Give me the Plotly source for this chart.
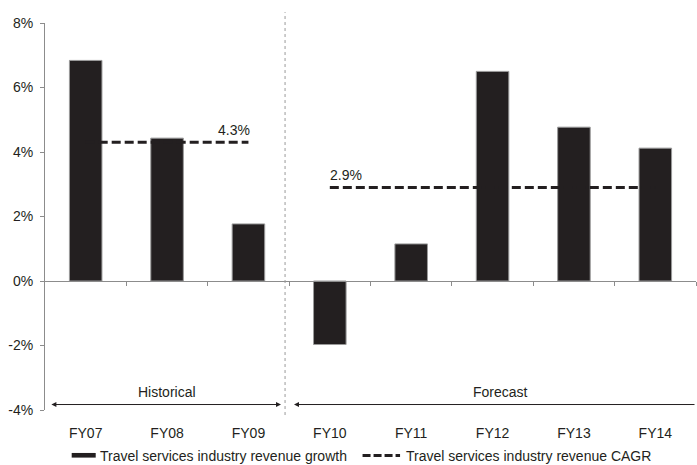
import plotly.graph_objects as go

categories = ["FY07", "FY08", "FY09", "FY10", "FY11", "FY12", "FY13", "FY14"]
revenue_growth = [6.84, 4.43, 1.77, -1.97, 1.15, 6.50, 4.77, 4.12]
cagr_hist = 4.3
cagr_fcst = 2.9
hist_cats = categories[:3]
fcst_cats = categories[3:]
y_ticks = [-4, -2, 0, 2, 4, 6, 8]
y_tick_labels = ["-4%", "-2%", "0%", "2%", "4%", "6%", "8%"]

DARK = "#231f20"
GRAY = "#8c8c8c"
FONT = "Liberation Sans, Arial, sans-serif"

xs = list(range(len(categories)))
cagr_x = [categories.index(c) for c in hist_cats] + [None] + [categories.index(c) for c in fcst_cats]
cagr_y = [cagr_hist] * len(hist_cats) + [None] + [cagr_fcst] * len(fcst_cats)

fig = go.Figure()
fig.add_trace(go.Scatter(
    x=cagr_x, y=cagr_y, mode="lines", connectgaps=False,
    line=dict(color=DARK, width=3, dash="9px,4px"),
    name="Travel services industry revenue CAGR", showlegend=False, hoverinfo="skip"))
fig.add_trace(go.Bar(
    x=xs, y=revenue_growth, width=0.4,
    marker=dict(color=DARK, line=dict(color="#9a9a9a", width=1)),
    name="Travel services industry revenue growth", showlegend=False))

# data labels for CAGR
fig.add_annotation(x=categories.index(hist_cats[-1]), y=cagr_hist, text=f"{cagr_hist:.1f}%",
                   showarrow=False, xanchor="right", yanchor="bottom", xshift=4, yshift=2,
                   font=dict(family=FONT, size=14, color=DARK))
fig.add_annotation(x=categories.index(fcst_cats[0]), y=cagr_fcst, text=f"{cagr_fcst:.1f}%",
                   showarrow=False, xanchor="left", yanchor="bottom", xshift=-2, yshift=2,
                   font=dict(family=FONT, size=14, color=DARK))

# Historical / Forecast arrows and labels
arrow_y = -3.83
fig.add_annotation(x=2.40, y=arrow_y, ax=-0.44, ay=arrow_y, axref="x", ayref="y",
                   xref="x", yref="y", text="", showarrow=True, arrowhead=2, arrowsize=1,
                   arrowwidth=1, arrowcolor=DARK, arrowside="end+start")
fig.add_annotation(x=2.56, y=arrow_y, ax=7.5, ay=arrow_y, axref="x", ayref="y",
                   xref="x", yref="y", text="", showarrow=True, arrowhead=2, arrowsize=1,
                   arrowwidth=1, arrowcolor=DARK)
fig.add_annotation(x=1.0, y=-3.43, text="Historical", showarrow=False,
                   font=dict(family=FONT, size=14, color=DARK))
fig.add_annotation(x=5.1, y=-3.43, text="Forecast", showarrow=False,
                   font=dict(family=FONT, size=14, color=DARK))

# divider
fig.add_shape(type="line", xref="x", yref="paper", x0=2.45, x1=2.45, y0=-0.013, y1=1.028,
              line=dict(color="#9a9a9a", width=1, dash="dot"))

# manual legend
fig.add_shape(type="rect", xref="paper", yref="paper", x0=0.041, x1=0.0779, y0=-0.123, y1=-0.111,
              fillcolor=DARK, line=dict(width=0))
fig.add_annotation(xref="paper", yref="paper", x=0.082, y=-0.1176, xanchor="left", yanchor="middle",
                   text="Travel services industry revenue growth", showarrow=False,
                   font=dict(family=FONT, size=14, color=DARK))
fig.add_shape(type="line", xref="paper", yref="paper", x0=0.4878, x1=0.5454, y0=-0.1176, y1=-0.1176,
              line=dict(color=DARK, width=3, dash="8px,3px"))
fig.add_annotation(xref="paper", yref="paper", x=0.551, y=-0.1176, xanchor="left", yanchor="middle",
                   text="Travel services industry revenue CAGR", showarrow=False,
                   font=dict(family=FONT, size=14, color=DARK))

fig.update_layout(
    width=697, height=465,
    margin=dict(l=45, r=1, t=23, b=55),
    plot_bgcolor="white", paper_bgcolor="white",
    bargap=0.6,
    font=dict(family=FONT, size=14, color=DARK),
    xaxis=dict(range=[-0.5, 7.5], tickmode="array", tickvals=xs, ticktext=categories,
               showline=False, showgrid=False, zeroline=False, ticks="",
               ticklabelstandoff=13, tickfont=dict(family=FONT, size=14, color=DARK)),
    xaxis2=dict(range=[-0.5, 7.5], overlaying="x", anchor="free", position=4/12, side="bottom",
                showline=True, linecolor=GRAY, linewidth=1, showgrid=False, zeroline=False,
                ticks="outside", ticklen=4, tickcolor=GRAY, tickwidth=1,
                tickmode="array", tickvals=[i + 0.5 for i in range(len(categories))],
                showticklabels=False),
    yaxis=dict(range=[-4, 8], tickmode="array", tickvals=y_ticks, ticktext=y_tick_labels,
               showline=True, linecolor=GRAY, linewidth=1, showgrid=False, zeroline=False,
               ticks="outside", ticklen=4, tickcolor=GRAY, ticklabelstandoff=4,
               tickfont=dict(family=FONT, size=14, color=DARK)),
)
# dummy invisible trace to show xaxis2
fig.add_trace(go.Scatter(x=[None], y=[None], xaxis="x2", showlegend=False, hoverinfo="skip"))

fig.write_html("out.html")
